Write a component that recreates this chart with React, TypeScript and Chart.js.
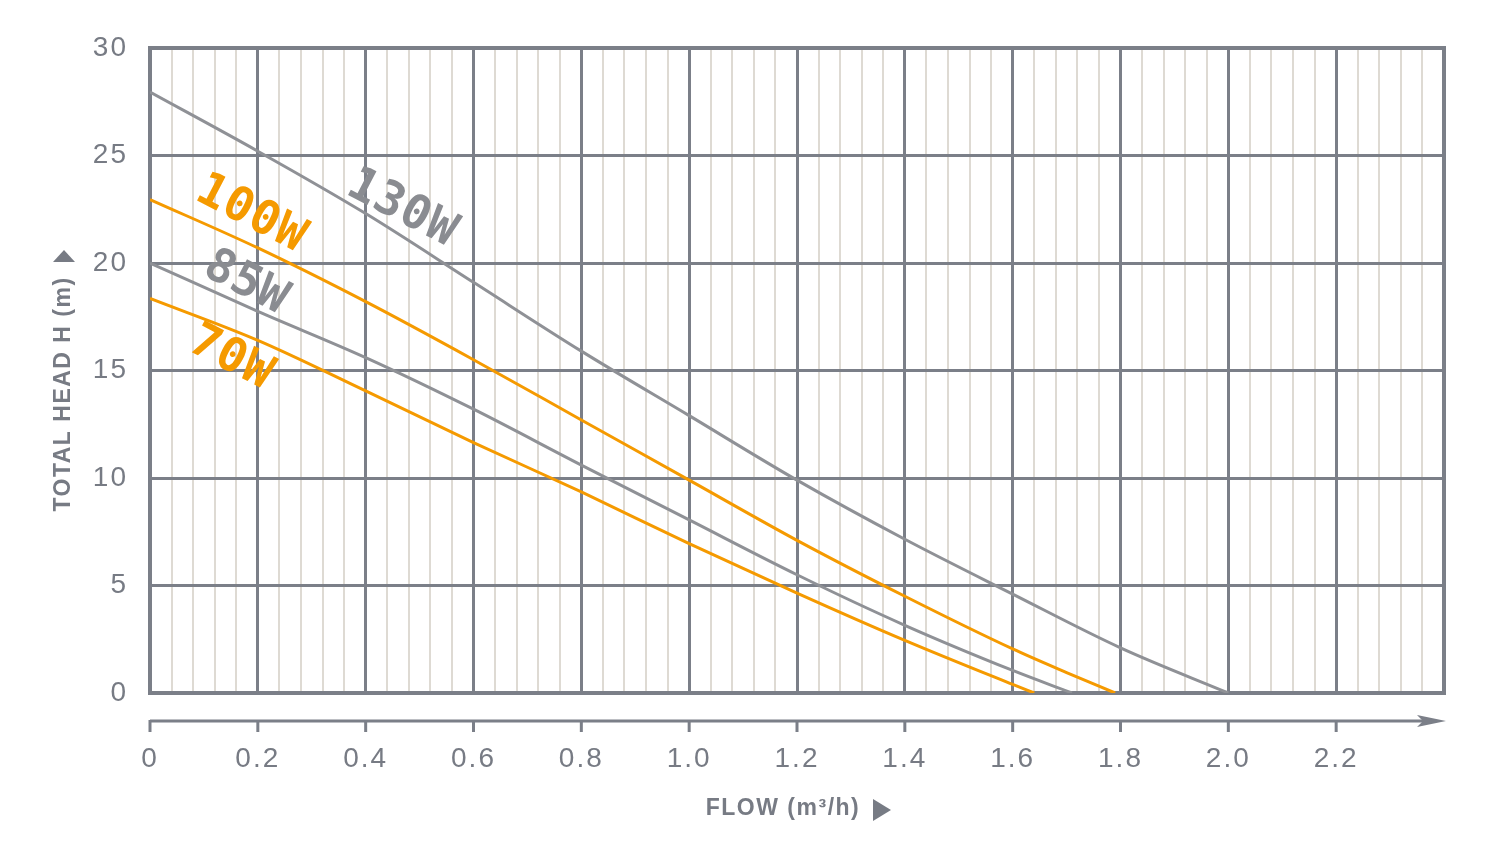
import React, { useEffect, useRef } from 'react';
import { Chart, registerables } from 'chart.js';

Chart.register(...registerables);

// pump curves (flow m³/h, head m)
const flow130 = [0, 0.2, 0.4, 0.6, 0.8, 1.0, 1.2, 1.4, 1.6, 1.8, 2.0];
const head130 = [27.95, 25.2, 22.3, 19.1, 15.9, 12.9, 9.9, 7.15, 4.6, 2.1, 0];

const flow100 = [0, 0.2, 0.4, 0.6, 0.8, 1.0, 1.2, 1.4, 1.6, 1.7, 1.79];
const head100 = [22.95, 20.7, 18.2, 15.5, 12.7, 9.9, 7.1, 4.5, 2.05, 0.95, 0];

const flow85 = [0, 0.2, 0.4, 0.6, 0.8, 1.0, 1.2, 1.4, 1.6, 1.71];
const head85 = [20, 17.75, 15.6, 13.2, 10.6, 8.05, 5.5, 3.15, 1.05, 0];

const flow70 = [0, 0.2, 0.4, 0.6, 0.8, 1.0, 1.2, 1.4, 1.6, 1.64];
const head70 = [18.35, 16.4, 14.05, 11.65, 9.35, 6.95, 4.65, 2.45, 0.4, 0];

const curveNames = ['130W', '100W', '85W', '70W'];
// where each curve name sits (in flow / head units)
const labelFlow = [0.467, 0.187, 0.178, 0.15];
const labelHead = [22.5, 22.25, 19.05, 15.55];

const xMax = 2.4;
const yMax = 30;

const gridMajor = '#7b7f88';
const gridMinor = '#dedad3';
const textGray = '#777b84';
const curveGray = '#8f9196';
const curveOrange = '#f59a00';
const labelGray = '#8a8c91';

const toPoints = (xs: number[], ys: number[]) => xs.map((x, i) => ({ x, y: ys[i] }));
const isMajorX = (v: number) => Math.abs(v / 0.2 - Math.round(v / 0.2)) < 1e-6;

const decorPlugin = {
  id: 'decor',
  beforeDraw(chart: any) {
    chart.ctx.letterSpacing = '2px';
  },
  beforeDatasetsDraw(chart: any) {
    const { ctx, chartArea } = chart;
    ctx.save();
    ctx.strokeStyle = gridMajor;
    ctx.lineWidth = 4;
    ctx.strokeRect(chartArea.left, chartArea.top, chartArea.right - chartArea.left, chartArea.bottom - chartArea.top);
    ctx.restore();
  },
  afterDraw(chart: any) {
    const { ctx, chartArea } = chart;
    const xs = chart.scales.x;
    const ys = chart.scales.y;
    ctx.save();

    // curve names
    ctx.letterSpacing = '1px';
    ctx.font = 'bold 47px "DejaVu Sans Mono"';
    ctx.textAlign = 'center';
    ctx.textBaseline = 'middle';
    curveNames.forEach((name, i) => {
      ctx.save();
      ctx.translate(xs.getPixelForValue(labelFlow[i]), ys.getPixelForValue(labelHead[i]));
      ctx.rotate(0.48);
      ctx.fillStyle = i % 2 === 0 ? labelGray : curveOrange;
      ctx.fillText(name, 0, 0);
      ctx.restore();
    });

    // separate flow axis with arrow
    const axisY = 721;
    ctx.strokeStyle = gridMajor;
    ctx.fillStyle = gridMajor;
    ctx.lineWidth = 3;
    ctx.beginPath();
    ctx.moveTo(chartArea.left, axisY);
    ctx.lineTo(chartArea.right - 20, axisY);
    ctx.stroke();
    ctx.beginPath();
    ctx.moveTo(chartArea.right - 27, axisY - 6);
    ctx.lineTo(chartArea.right + 2, axisY);
    ctx.lineTo(chartArea.right - 27, axisY + 6);
    ctx.lineTo(chartArea.right - 21, axisY);
    ctx.closePath();
    ctx.fill();
    xs.ticks.forEach((t: any) => {
      if (!isMajorX(t.value) || t.value > xMax - 0.01) return;
      const px = xs.getPixelForValue(t.value);
      ctx.beginPath();
      ctx.moveTo(px, axisY - 1);
      ctx.lineTo(px, axisY + 11);
      ctx.stroke();
    });

    // axis titles
    ctx.fillStyle = textGray;
    ctx.letterSpacing = '1.5px';
    ctx.font = 'bold 23px "Liberation Sans"';
    ctx.textAlign = 'center';
    ctx.textBaseline = 'middle';
    ctx.fillText('FLOW (m³/h)', 783, 809);
    ctx.beginPath();
    ctx.moveTo(873, 799);
    ctx.lineTo(891, 810);
    ctx.lineTo(873, 821);
    ctx.closePath();
    ctx.fill();

    ctx.save();
    ctx.translate(64, 394);
    ctx.rotate(-Math.PI / 2);
    ctx.fillText('TOTAL HEAD H (m)', 0, 0);
    ctx.restore();
    ctx.beginPath();
    ctx.moveTo(53, 262);
    ctx.lineTo(64, 250);
    ctx.lineTo(75, 262);
    ctx.closePath();
    ctx.fill();

    ctx.restore();
  },
};

const App: React.FC = () => {
  const canvasRef = useRef<HTMLCanvasElement | null>(null);
  const chartRef = useRef<Chart | null>(null);

  useEffect(() => {
    if (!canvasRef.current) return;
    if (chartRef.current) chartRef.current.destroy();

    const line = (label: string, xs: number[], ys: number[], color: string) => ({
      label,
      data: toPoints(xs, ys),
      borderColor: color,
      backgroundColor: color,
      borderWidth: 3,
      pointRadius: 0,
      cubicInterpolationMode: 'monotone',
      fill: false,
    });

    chartRef.current = new Chart(canvasRef.current, {
      type: 'line',
      data: {
        datasets: [
          line('130W', flow130, head130, curveGray),
          line('100W', flow100, head100, curveOrange),
          line('85W', flow85, head85, curveGray),
          line('70W', flow70, head70, curveOrange),
        ],
      },
      options: {
        animation: false,
        responsive: false,
        devicePixelRatio: 1,
        layout: { padding: { left: 0, top: 48, right: 56, bottom: 0 } },
        plugins: {
          legend: { display: false },
          tooltip: { enabled: false },
        },
        scales: {
          x: {
            type: 'linear',
            min: 0,
            max: xMax,
            border: { display: false },
            grid: {
              z: -2,
              drawTicks: false,
              color: (c: any) => (isMajorX(c.tick.value) ? gridMajor : gridMinor),
              lineWidth: (c: any) => (isMajorX(c.tick.value) ? 3 : 2),
            },
            ticks: {
              stepSize: 0.04,
              maxTicksLimit: 100,
              autoSkip: false,
              maxRotation: 0,
              padding: 49,
              color: textGray,
              font: { family: '"Liberation Sans"', size: 28 },
              callback: (v: any) => {
                const n = Number(v);
                if (!isMajorX(n) || n > xMax - 0.01) return '';
                return n === 0 ? '0' : n.toFixed(1);
              },
            },
            afterFit: (s: any) => {
              s.height = 157;
            },
          },
          y: {
            type: 'linear',
            min: 0,
            max: yMax,
            border: { display: false },
            grid: { z: -1, drawTicks: false, color: gridMajor, lineWidth: 3 },
            ticks: {
              stepSize: 5,
              padding: 22,
              color: textGray,
              font: { family: '"Liberation Sans"', size: 28 },
            },
            afterFit: (s: any) => {
              s.width = 150;
            },
          },
        },
      } as any,
      plugins: [decorPlugin],
    });

    return () => {
      if (chartRef.current) {
        chartRef.current.destroy();
        chartRef.current = null;
      }
    };
  }, []);

  return (
    <div style={{ position: 'absolute', left: 0, top: 0, width: 1500, height: 850, background: '#fff' }}>
      <canvas ref={canvasRef} width={1500} height={850} />
    </div>
  );
};

export default App;
